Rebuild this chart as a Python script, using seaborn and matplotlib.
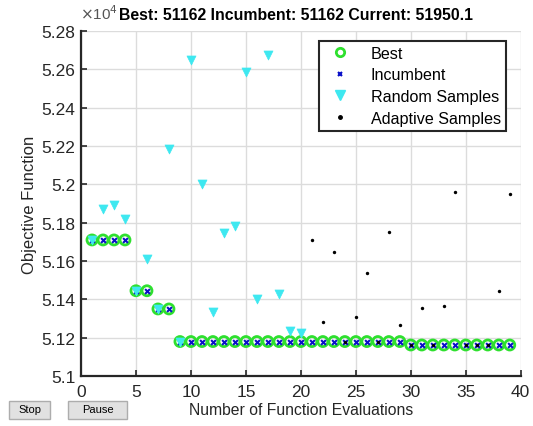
import numpy as np
import pandas as pd
import matplotlib
matplotlib.use("Agg")
import matplotlib.pyplot as plt
from matplotlib.patches import FancyBboxPatch
from matplotlib.lines import Line2D
import seaborn as sns

# ---------------- data ----------------
iters = list(range(1, 40))
best_vals = [51710] * 4 + [51445] * 2 + [51350] * 2 + [51180] * 21 + [51162] * 10
incumbent_vals = list(best_vals)
random_x = list(range(1, 21))
random_y = [51710, 51874, 51891, 51818, 51445, 51609, 51350, 52186, 51180, 52650,
            52004, 51336, 51745, 51782, 52585, 51402, 52677, 51428, 51236, 51227]
adaptive_x = list(range(21, 40))
adaptive_y = [51709, 51281, 51648, 51180, 51310, 51539, 51180, 51749, 51267, 51162,
              51357, 51162, 51364, 51962, 51162, 51162, 51162, 51444, 51950.1]
yticks = [51000, 51200, 51400, 51600, 51800, 52000, 52200, 52400, 52600, 52800]
xticks = [0, 5, 10, 15, 20, 25, 30, 35, 40]
title = "Best: 51162 Incumbent: 51162 Current: 51950.1"

best_df = pd.DataFrame({"x": iters, "y": best_vals})
inc_df = pd.DataFrame({"x": iters, "y": incumbent_vals})
rand_df = pd.DataFrame({"x": random_x, "y": random_y})
adap_df = pd.DataFrame({"x": adaptive_x, "y": adaptive_y})

# ---------------- style ----------------
sns.set_theme(style="white")
plt.rcParams["font.family"] = ["Liberation Sans", "DejaVu Sans"]

fig = plt.figure(figsize=(5.33, 4.27), dpi=100)
ax = fig.add_axes([0.152, 0.117, 0.825, 0.808])

GREEN = "#2ee02e"
CYAN = "#3ee8f0"
BLUE = "#0a10c8"

sns.scatterplot(data=best_df, x="x", y="y", ax=ax, marker="o", s=52,
                facecolor="none", edgecolor=GREEN, linewidth=2.0, zorder=3)
sns.scatterplot(data=inc_df, x="x", y="y", ax=ax, marker="x", s=12,
                color=BLUE, linewidth=1.5, zorder=4)
sns.scatterplot(data=rand_df, x="x", y="y", ax=ax, marker="v", s=42,
                color=CYAN, edgecolor=CYAN, linewidth=0.5, zorder=5)
sns.scatterplot(data=adap_df, x="x", y="y", ax=ax, marker="o", s=6,
                color="black", edgecolor="black", linewidth=0, zorder=6)

ax.set_xlim(0, 40)
ax.set_ylim(51000, 52800)
ax.set_xticks(xticks)
ax.set_yticks(yticks)
ax.set_xticklabels([str(t) for t in xticks])
ax.set_yticklabels([f"{t/1e4:g}" for t in yticks])
ax.tick_params(axis="both", direction="in", length=4, width=1.2, labelsize=12.5,
               colors="#262626", bottom=True, left=True, pad=4)
ax.tick_params(axis="x", pad=6)
ax.grid(True, color="#dcdcdc", linewidth=1.0)
ax.set_axisbelow(True)
for s in ["top", "right"]:
    ax.spines[s].set_visible(False)
for s in ["left", "bottom"]:
    ax.spines[s].set_color("#262626")
    ax.spines[s].set_linewidth(1.6)

ax.set_xlabel("Number of Function Evaluations", fontsize=11.3, color="#262626", labelpad=2)
ax.set_ylabel("Objective Function", fontsize=12, color="#262626", labelpad=3)

# exponent and title
fig.text(0.150, 0.945, r"$\times$10$^4$", fontsize=11, color="#555555", ha="left", va="bottom")
fig.text(0.5545, 0.945, title, fontsize=11.4, fontweight="bold", color="black",
         ha="center", va="bottom")

# legend
handles = [
    Line2D([], [], linestyle="none", marker="o", markersize=6, markerfacecolor="none",
           markeredgecolor=GREEN, markeredgewidth=2),
    Line2D([], [], linestyle="none", marker="x", markersize=3, color=BLUE, markeredgewidth=1.5),
    Line2D([], [], linestyle="none", marker="v", markersize=7, color=CYAN),
    Line2D([], [], linestyle="none", marker="o", markersize=2.5, color="black"),
]
labels = ["Best", "Incumbent", "Random Samples", "Adaptive Samples"]
leg = ax.legend(handles, labels, loc="upper right", bbox_to_anchor=(0.966, 0.972),
                fontsize=11.6, frameon=True, fancybox=False, borderpad=0.3,
                labelspacing=0.42, handletextpad=0.9, handlelength=2.0,
                borderaxespad=0)
leg.get_frame().set_edgecolor("#262626")
leg.get_frame().set_linewidth(1.5)
leg.get_frame().set_alpha(1)
for t in leg.get_texts():
    t.set_color("black")

# Stop / Pause buttons
for (x0, w, lab) in [(9, 41, "Stop"), (68, 59, "Pause")]:
    rect = FancyBboxPatch((x0 / 533, 1 - 419.5 / 427), w / 533, 18 / 427,
                          boxstyle="square,pad=0", transform=fig.transFigure,
                          facecolor="#e1e1e1", edgecolor="#adadad", linewidth=1)
    fig.patches.append(rect)
    fig.text((x0 + w / 2) / 533, 1 - 410.5 / 427, lab, fontsize=8, ha="center",
             va="center", color="black")

fig.savefig("out.png", dpi=100)
